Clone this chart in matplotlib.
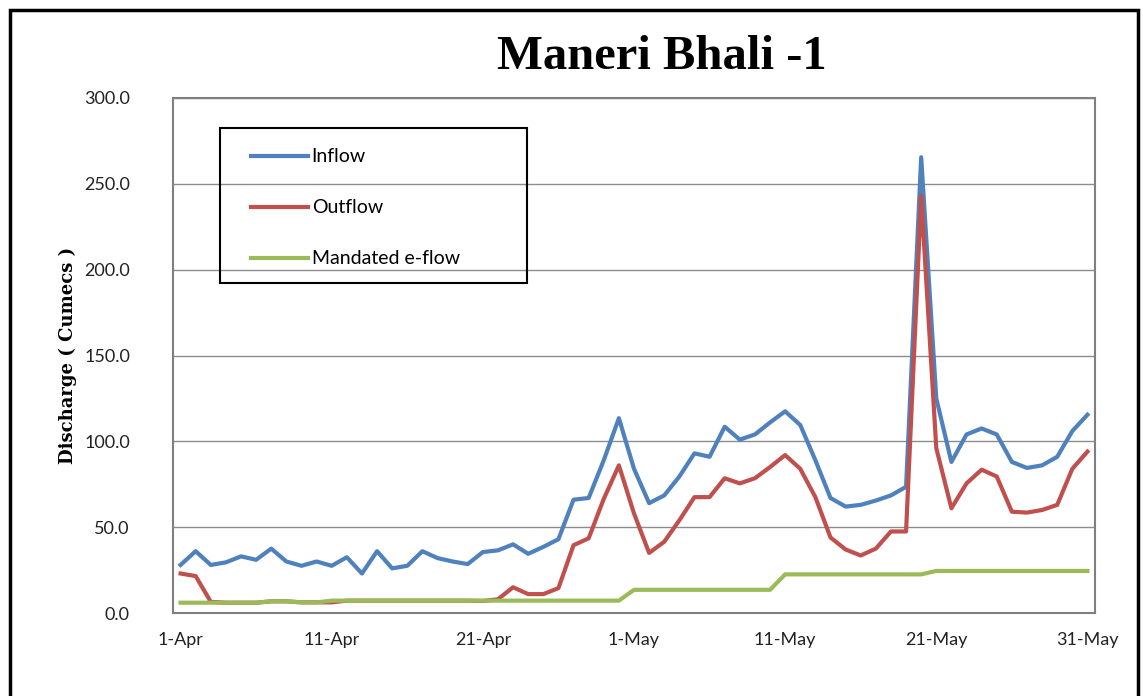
import matplotlib
matplotlib.use("Agg")
from matplotlib import pyplot as plt
from matplotlib.patches import Rectangle

# daily discharge, 1-Apr .. 31-May (cumecs)
dates = ["1-Apr", "11-Apr", "21-Apr", "1-May", "11-May", "21-May", "31-May"]
inflow = [28, 36, 28, 29.5, 33, 31, 37.5, 30, 27.5, 30,
          27.5, 32.5, 23, 36, 26, 27.5, 36, 32, 30, 28.5,
          35.5, 36.5, 40, 34.5, 38.5, 43, 66, 67, 89, 113.5,
          84, 64, 68.5, 79.5, 93, 91, 108.5, 101, 104, 111,
          117.5, 109.5, 89, 67, 62, 63, 65.5, 68.5, 73.5, 265.5,
          125, 88, 104, 107.5, 104, 88, 84.5, 86, 91, 106, 115.5]
outflow = [23, 21.5, 6.5, 6, 6, 6, 6.8, 6.8, 6.2, 6.2,
           6.2, 7.2, 7.2, 7.2, 7.2, 7.2, 7.2, 7.2, 7.2, 7.2,
           7, 8, 15, 11, 11, 14.5, 39.5, 43.5, 66.5, 86,
           58, 35, 41.5, 54, 67.5, 67.5, 78.5, 75.5, 78.5, 85,
           92, 84, 67.5, 44, 37, 33.5, 37.5, 47.5, 47.5, 243,
           96, 61, 75.5, 83.5, 79.5, 59, 58.5, 60, 63, 84, 94]
eflow = [6, 6, 6, 6, 6, 6, 6.8, 6.8, 6.2, 6.2,
         7.2, 7.2, 7.2, 7.2, 7.2, 7.2, 7.2, 7.2, 7.2, 7.2,
         7.2, 7.2, 7.2, 7.2, 7.2, 7.2, 7.2, 7.2, 7.2, 7.2,
         13.5, 13.5, 13.5, 13.5, 13.5, 13.5, 13.5, 13.5, 13.5, 13.5,
         22.5, 22.5, 22.5, 22.5, 22.5, 22.5, 22.5, 22.5, 22.5, 22.5,
         24.5, 24.5, 24.5, 24.5, 24.5, 24.5, 24.5, 24.5, 24.5, 24.5, 24.5]

days = list(range(len(inflow)))

fig = plt.figure(figsize=(11.43, 6.96), dpi=100)
ax = fig.add_axes([173 / 1143, 1 - 613 / 696, 922 / 1143, 515 / 696])

ax.plot(days, inflow, color="#4F81BD", lw=3, label="Inflow", solid_joinstyle="round")
ax.plot(days, outflow, color="#C0504D", lw=3, label="Outflow", solid_joinstyle="round")
ax.plot(days, eflow, color="#9BBB59", lw=3, label="Mandated e-flow", solid_joinstyle="round")

ax.set_xlim(-0.5, 60.5)
ax.set_ylim(0, 300)
ax.set_yticks(range(0, 301, 50))
ax.set_yticklabels([f"{v:.1f}" for v in range(0, 301, 50)])
ax.set_xticks(range(0, 61, 10))
ax.set_xticklabels(dates)
ax.tick_params(length=0, labelsize=13, colors="#222222")
ax.tick_params(axis="y", pad=31)
ax.tick_params(axis="x", pad=14)
for lab in ax.get_xticklabels() + ax.get_yticklabels():
    lab.set_family("Lato")
ax.grid(axis="y", color="#8c8c8c", lw=1)
ax.set_axisbelow(True)
for s in ax.spines.values():
    s.set_color("#7f7f7f")
    s.set_linewidth(1.5)

leg = ax.legend(loc="upper left", bbox_to_anchor=(0.0745, 0.921), frameon=False,
                prop={"family": "Lato", "size": 14}, handlelength=2.9,
                handletextpad=0.2, labelspacing=1.75, borderpad=0)
ax.add_patch(Rectangle((47 / 922, 1 - 185 / 515), 307 / 922, 155 / 515,
                       transform=ax.transAxes, fill=False, ec="black", lw=1.5))

fig.text(662 / 1143, 1 - 57 / 696, "Maneri Bhali -1", family="Liberation Serif",
         weight="bold", size=35, ha="center", va="center")
fig.text(68 / 1143, 1 - 355 / 696, "Discharge ( Cumecs )", family="DejaVu Serif",
         weight="bold", size=13, rotation=90, ha="center", va="center")

# chart area border
fig.patches.append(Rectangle((10 / 1143, -0.05), 1128 / 1143, 1.05 - 10 / 696,
                             transform=fig.transFigure, fill=False, ec="black", lw=2.5))

fig.savefig("out.png", dpi=100)
